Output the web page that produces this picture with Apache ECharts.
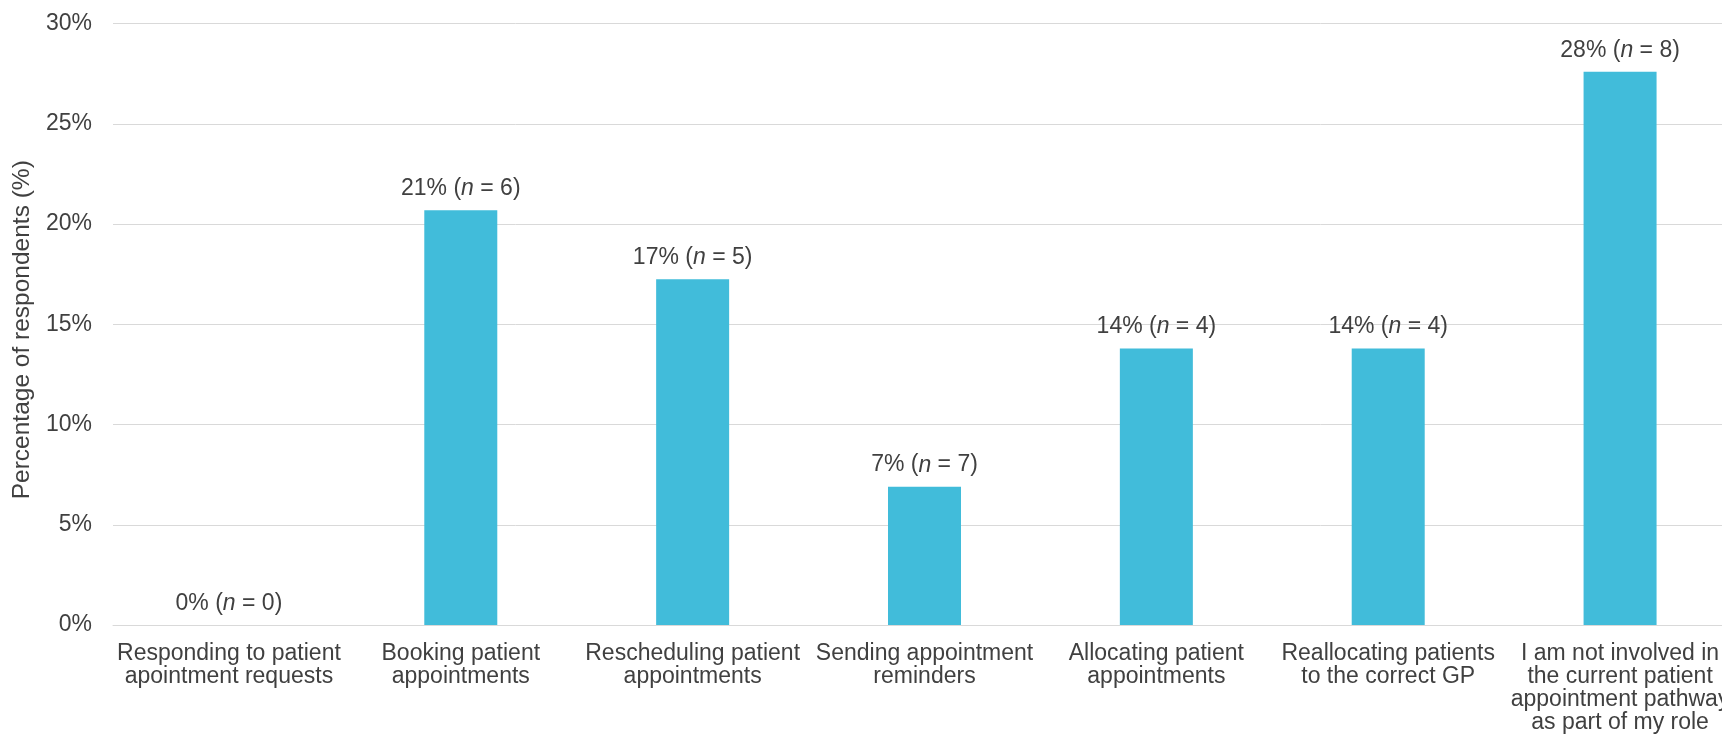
<!DOCTYPE html>
<html>
<head>
<meta charset="utf-8">
<script src="https://cdn.jsdelivr.net/npm/echarts@6/dist/echarts.min.js"></script>
<style>
  html, body { margin: 0; padding: 0; background: #ffffff; }
  #chart { width: 1722px; height: 744px; }
</style>
</head>
<body>
<div id="chart"></div>
<script>
// ---- Data ----
const categories = [
  "Responding to patient\napointment requests",
  "Booking patient\nappointments",
  "Rescheduling patient\nappointments",
  "Sending appointment\nreminders",
  "Allocating patient\nappointments",
  "Reallocating patients\nto the correct GP",
  "I am not involved in\nthe current patient\nappointment pathway\nas part of my role"
];
const values = [0, 20.69, 17.24, 6.90, 13.79, 13.79, 27.59];
const percentLabels = ["0%", "21%", "17%", "7%", "14%", "14%", "28%"];
const nCounts = [0, 6, 5, 7, 4, 4, 8];
const yTicks = [0, 5, 10, 15, 20, 25, 30];
const yAxisTitle = "Percentage of respondents (%)";

// ---- Chart ----
const FONT = "'Liberation Sans', Arial, sans-serif";
const TEXT = "#404040";
const chart = echarts.init(document.getElementById('chart'), null, { renderer: 'canvas' });

chart.setOption({
  animation: false,
  backgroundColor: '#ffffff',
  grid: { left: 113, width: 1623, top: 23.5, bottom: 119, containLabel: false, outerBoundsMode: 'none' },
  xAxis: {
    type: 'category',
    data: categories,
    axisLine: { show: true, lineStyle: { color: '#d9d9d9', width: 1 } },
    axisTick: { show: false },
    axisLabel: {
      interval: 0,
      margin: 17,
      color: TEXT,
      fontFamily: FONT,
      fontSize: 23,
      lineHeight: 23,
      align: 'center'
    }
  },
  yAxis: {
    type: 'value',
    min: yTicks[0],
    max: yTicks[yTicks.length - 1],
    interval: yTicks[1] - yTicks[0],
    name: yAxisTitle,
    nameLocation: 'middle',
    nameGap: 71,
    nameTextStyle: { color: TEXT, fontFamily: FONT, fontSize: 24.5, padding: [0, 11, 0, 0] },
    axisLine: { show: false },
    axisTick: { show: false },
    splitLine: { show: true, lineStyle: { color: '#d9d9d9', width: 1 } },
    axisLabel: {
      margin: 21,
      color: TEXT,
      fontFamily: FONT,
      fontSize: 23,
      formatter: v => v + '%'
    }
  },
  series: [{
    type: 'bar',
    data: values,
    barWidth: 73,
    itemStyle: { color: '#41BCDA' },
    label: {
      show: true,
      position: 'top',
      distance: 10,
      formatter: p => '{a|' + percentLabels[p.dataIndex] + ' (}{i|n}{a| = ' + nCounts[p.dataIndex] + ')}',
      rich: {
        a: { color: TEXT, fontFamily: FONT, fontSize: 23 },
        i: { color: TEXT, fontFamily: FONT, fontSize: 23, fontStyle: 'italic' }
      }
    }
  }]
});
</script>
</body>
</html>
